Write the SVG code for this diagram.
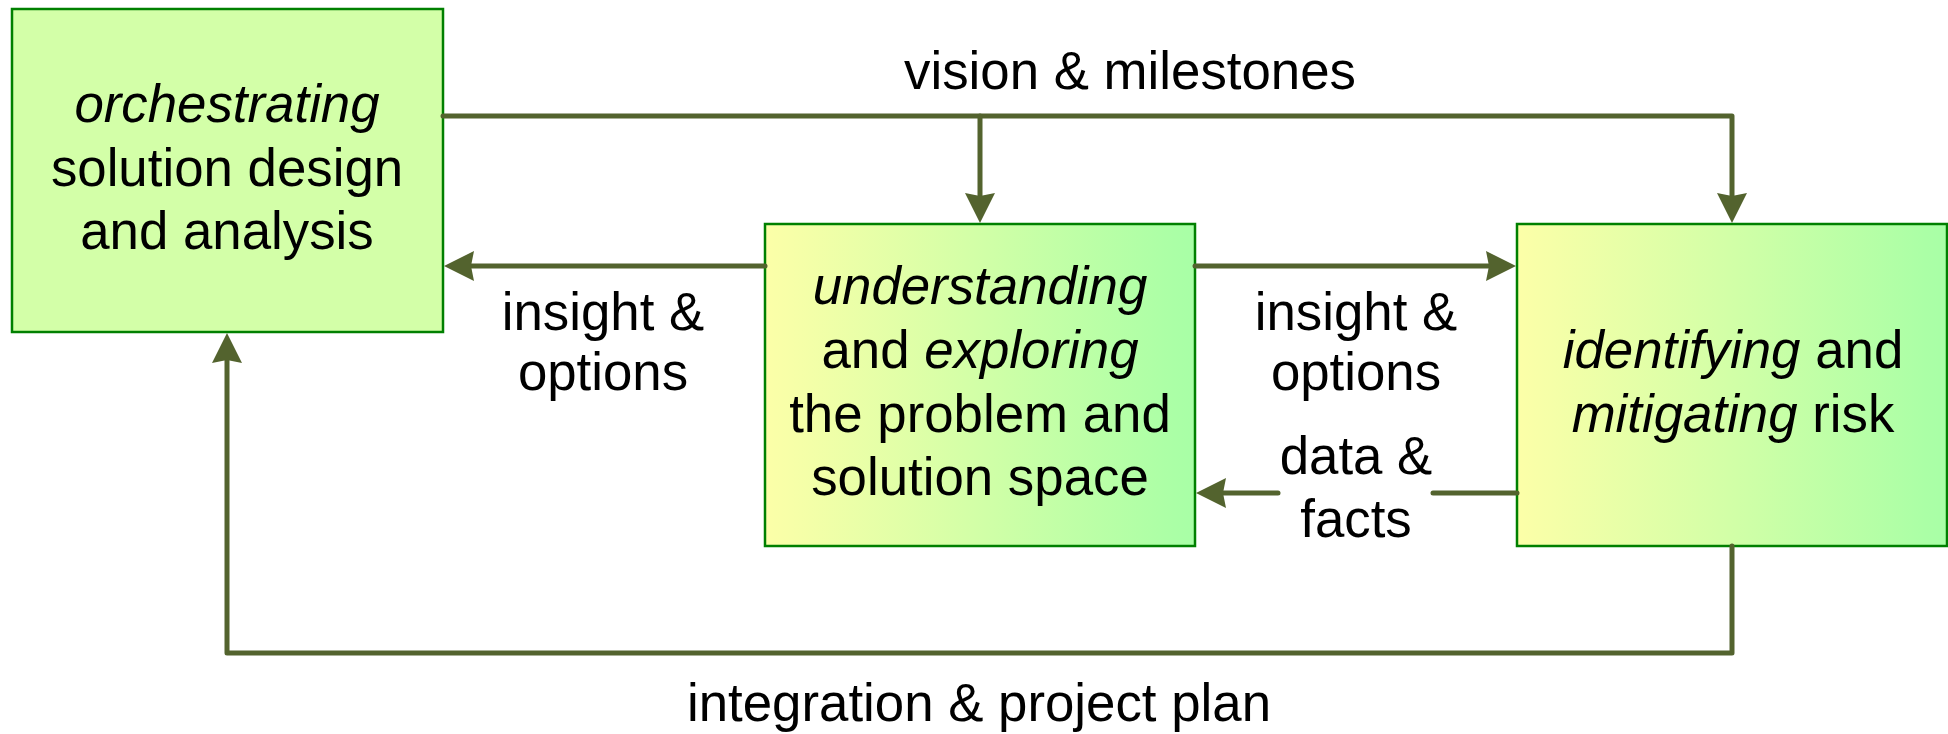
<svg xmlns="http://www.w3.org/2000/svg" width="1948" height="734" viewBox="0 0 1948 734">
  <style>
    .box { stroke: #008000; stroke-width: 2.5; }
    .conn { fill: none; stroke: #53632E; stroke-width: 5; stroke-linecap: round; stroke-linejoin: round; }
    text { font-family: "Liberation Sans", Arial, sans-serif; font-size: 52.8px; fill: #000; text-anchor: middle; }
    .it { font-style: italic; }
  </style>
  <defs>
    <linearGradient id="grad" x1="0" y1="0" x2="1" y2="0">
      <stop offset="0" stop-color="#FCFFA8"/>
      <stop offset="0.05" stop-color="#F8FFA8"/>
      <stop offset="0.95" stop-color="#ABFFA6"/>
      <stop offset="1" stop-color="#A8FFA6"/>
    </linearGradient>
    <marker id="arrow" markerUnits="userSpaceOnUse" markerWidth="40" markerHeight="40" viewBox="-2 -20 36 40" refX="3" refY="0" orient="auto">
      <path d="M0,-15 L30,0 L0,15 L3,0 Z" fill="#53632E"/>
    </marker>
  </defs>

  <g id="node-orchestrating">
    <rect class="box" x="12" y="9" width="431" height="323" fill="#D3FFA8"/>
    <text x="227" y="122"><tspan class="it">orchestrating</tspan></text>
    <text x="227" y="186">solution design</text>
    <text x="227" y="249">and analysis</text>
  </g>

  <g id="node-understanding">
    <rect class="box" x="765" y="224" width="430" height="322" fill="url(#grad)"/>
    <text x="980" y="304"><tspan class="it">understanding</tspan></text>
    <text x="980" y="368">and <tspan class="it">exploring</tspan></text>
    <text x="980" y="432">the problem and</text>
    <text x="980" y="495">solution space</text>
  </g>

  <g id="node-identifying">
    <rect class="box" x="1517" y="224" width="430" height="322" fill="url(#grad)"/>
    <text x="1733" y="368"><tspan class="it">identifying</tspan> and</text>
    <text x="1733" y="432"><tspan class="it">mitigating</tspan> risk</text>
  </g>

  <g id="connectors">
    <path class="conn" d="M443,116 L1732,116 L1732,196" marker-end="url(#arrow)"/>
    <path class="conn" d="M980,116 L980,196" marker-end="url(#arrow)"/>
    <path class="conn" d="M765,266 L471,266" marker-end="url(#arrow)"/>
    <path class="conn" d="M1195,266 L1489,266" marker-end="url(#arrow)"/>
    <path class="conn" d="M1517,493 L1433,493"/>
    <path class="conn" d="M1278,493 L1223,493" marker-end="url(#arrow)"/>
    <path class="conn" d="M1732,546 L1732,653 L227,653 L227,360" marker-end="url(#arrow)"/>
  </g>

  <g id="labels">
    <text x="1130" y="89">vision &amp; milestones</text>
    <text x="603" y="330">insight &amp;</text>
    <text x="603" y="390">options</text>
    <text x="1356" y="330">insight &amp;</text>
    <text x="1356" y="390">options</text>
    <text x="1356" y="474">data &amp;</text>
    <text x="1356" y="537">facts</text>
    <text x="979" y="721">integration &amp; project plan</text>
  </g>
</svg>
